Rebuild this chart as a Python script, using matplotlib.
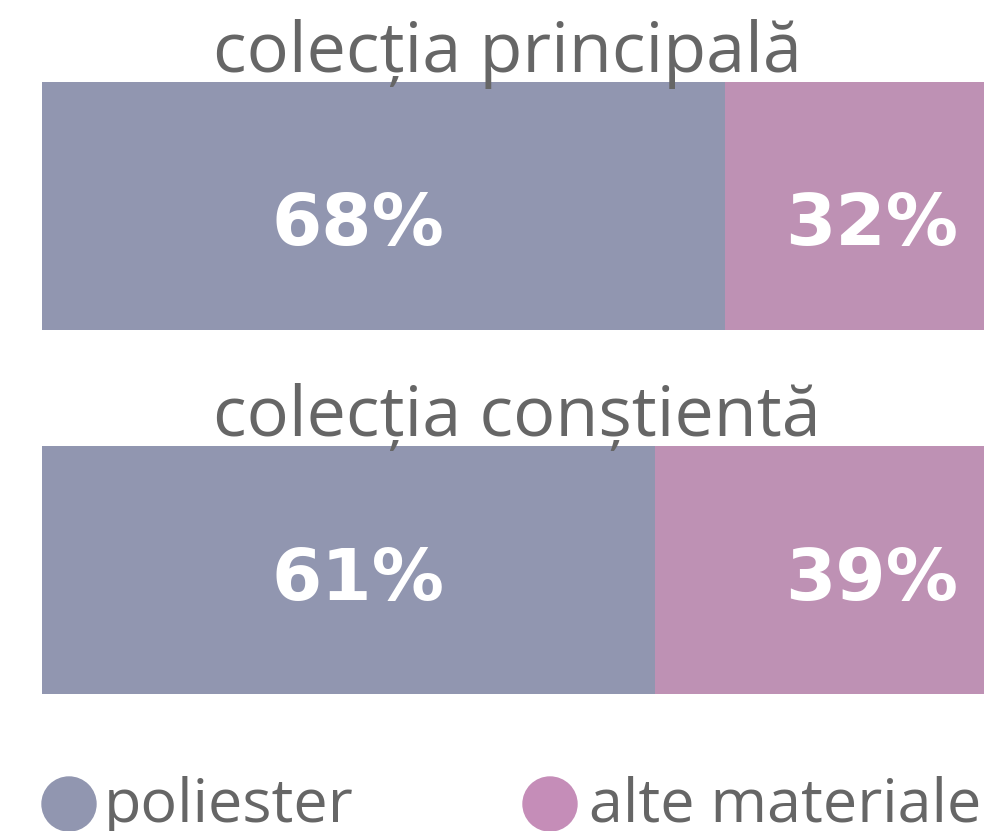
import matplotlib
matplotlib.use('Agg')
import matplotlib.pyplot as plt
from matplotlib.patches import Ellipse

# data
collections = ['colecția principală', 'colecția conștientă']
poliester = [68, 61]
alte = [32, 39]
series_labels = ['poliester', 'alte materiale']

c_poly = '#9196b0'
c_alte = '#be91b4'
c_alte_leg = '#c58db8'
c_text = '#666666'

W, H = 984, 831
fig = plt.figure(figsize=(W / 100, H / 100), dpi=100)
fig.patch.set_facecolor('white')

# bar axes: categories 0,1 ; pixel y = 206 + 363.5 * cat
step = 363.5
y0 = 206
ax = fig.add_axes([42 / W, 0, 1005 / W, 1])
ax.set_xlim(0, 100)
ax.set_ylim((H - y0) / step, -y0 / step)
ax.axis('off')

ypos = list(range(len(collections)))
ax.barh(ypos, poliester, height=248 / step, color=c_poly, clip_on=False)
ax.barh(ypos, alte, left=poliester, height=248 / step, color=c_alte, clip_on=False)

label_dy = [0.055, 0.03]
for i, name in enumerate(collections):
    ax.text(17.0, i - 0.368, name, ha='left', va='baseline',
            fontsize=50.5, color=c_text, family='Open Sans')
    ax.text(31.4, i + label_dy[i], f'{poliester[i]}%', ha='center', va='center',
            fontsize=52, color='white', fontweight='bold', family='DejaVu Sans')
    ax.text(82.5, i + label_dy[i], f'{alte[i]}%', ha='center', va='center',
            fontsize=52, color='white', fontweight='bold', family='DejaVu Sans')

# legend overlay in pixel coordinates
lax = fig.add_axes([0, 0, 1, 1])
lax.set_xlim(0, W)
lax.set_ylim(H, 0)
lax.axis('off')
for cx, col, tx, lab in [(69, c_poly, 104, series_labels[0]),
                         (550, c_alte_leg, 589, series_labels[1])]:
    lax.add_patch(Ellipse((cx, 804), 54, 54, color=col, clip_on=False))
    lax.text(tx, 822, lab, ha='left', va='baseline', fontsize=44,
             color=c_text, family='Open Sans')

fig.savefig('out.png', dpi=100)
